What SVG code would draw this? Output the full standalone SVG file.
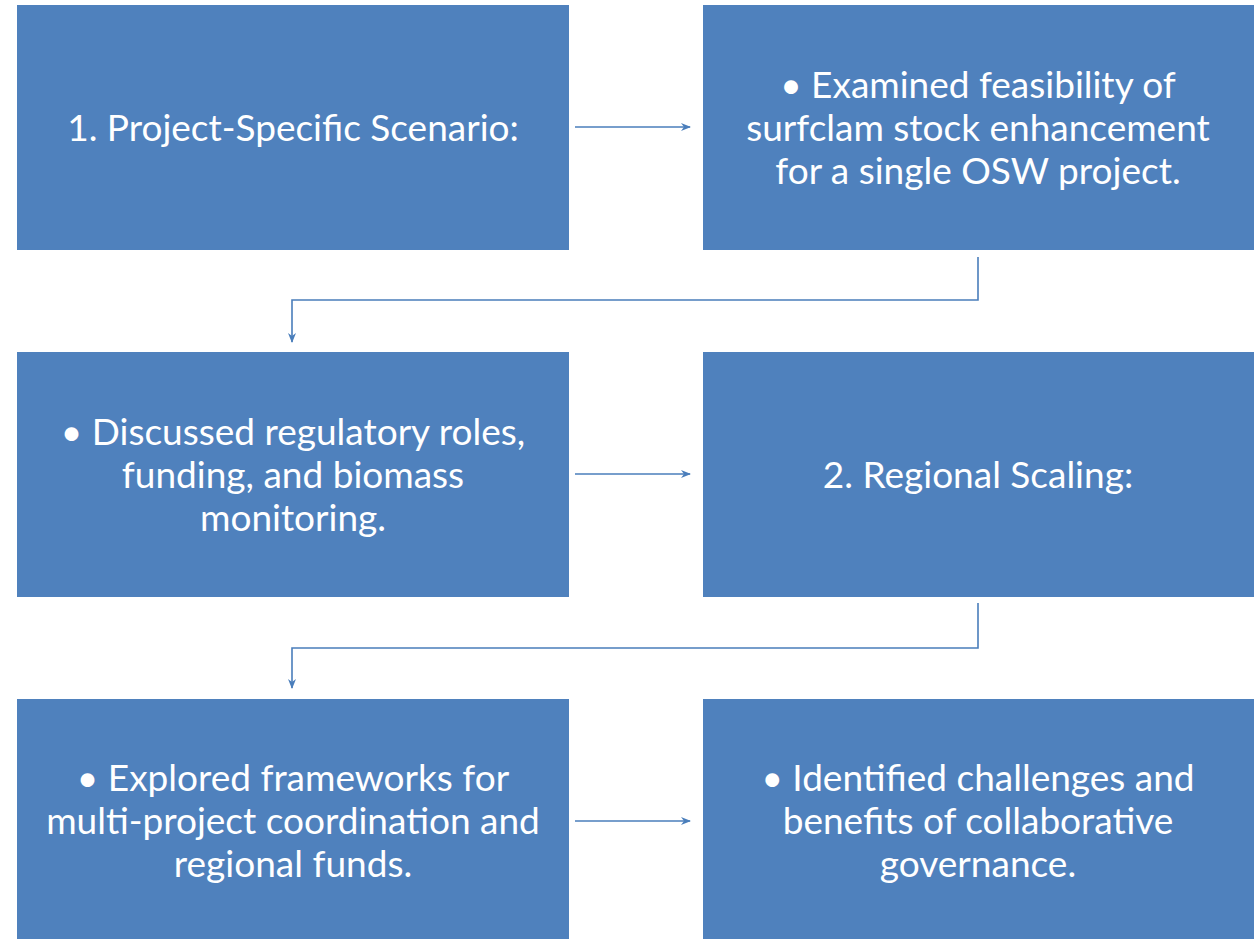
<svg xmlns="http://www.w3.org/2000/svg" width="1260" height="939" viewBox="0 0 1260 939">
  <style>
    .box { fill: #4F81BD; }
    .label { fill: #FFFFFF; font-family: Lato, "Open Sans", sans-serif; font-size: 37px; text-anchor: middle; }
    .link { fill: none; stroke: #4A7EBB; stroke-width: 1.6; }
  </style>
  <defs>
    <marker id="arrow" viewBox="0 0 10 10" refX="9" refY="5" markerWidth="10" markerHeight="10" markerUnits="userSpaceOnUse" orient="auto">
      <path d="M0,1 L10,5 L0,9 L3,5 Z" fill="#4A7EBB"/>
    </marker>
  </defs>
  <rect width="1260" height="939" fill="#FFFFFF"/>

  <g id="node-project-scenario">
    <rect class="box" x="17" y="5" width="552" height="245"/>
    <text class="label" x="293" y="141">1. Project-Specific Scenario:</text>
  </g>
  <g id="node-feasibility">
    <rect class="box" x="703" y="5" width="551" height="245"/>
    <text class="label" x="978" y="98">• Examined feasibility of</text>
    <text class="label" x="978" y="141">surfclam stock enhancement</text>
    <text class="label" x="978" y="184">for a single OSW project.</text>
  </g>
  <g id="node-regulatory">
    <rect class="box" x="17" y="352" width="552" height="245"/>
    <text class="label" x="293" y="445">• Discussed regulatory roles,</text>
    <text class="label" x="293" y="488">funding, and biomass</text>
    <text class="label" x="293" y="531">monitoring.</text>
  </g>
  <g id="node-regional-scaling">
    <rect class="box" x="703" y="352" width="551" height="245"/>
    <text class="label" x="978" y="488">2. Regional Scaling:</text>
  </g>
  <g id="node-frameworks">
    <rect class="box" x="17" y="699" width="552" height="245"/>
    <text class="label" x="293" y="791">• Explored frameworks for</text>
    <text class="label" x="293" y="834">multi-project coordination and</text>
    <text class="label" x="293" y="877">regional funds.</text>
  </g>
  <g id="node-governance">
    <rect class="box" x="703" y="699" width="551" height="245"/>
    <text class="label" x="978" y="791">• Identified challenges and</text>
    <text class="label" x="978" y="834">benefits of collaborative</text>
    <text class="label" x="978" y="877">governance.</text>
  </g>

  <g id="connectors">
    <line class="link" x1="575" y1="127" x2="690" y2="127" marker-end="url(#arrow)"/>
    <polyline class="link" points="978,257 978,300 292,300 292,342" marker-end="url(#arrow)"/>
    <line class="link" x1="575" y1="474" x2="690" y2="474" marker-end="url(#arrow)"/>
    <polyline class="link" points="978,603 978,648 292,648 292,688" marker-end="url(#arrow)"/>
    <line class="link" x1="575" y1="821" x2="690" y2="821" marker-end="url(#arrow)"/>
  </g>
</svg>
